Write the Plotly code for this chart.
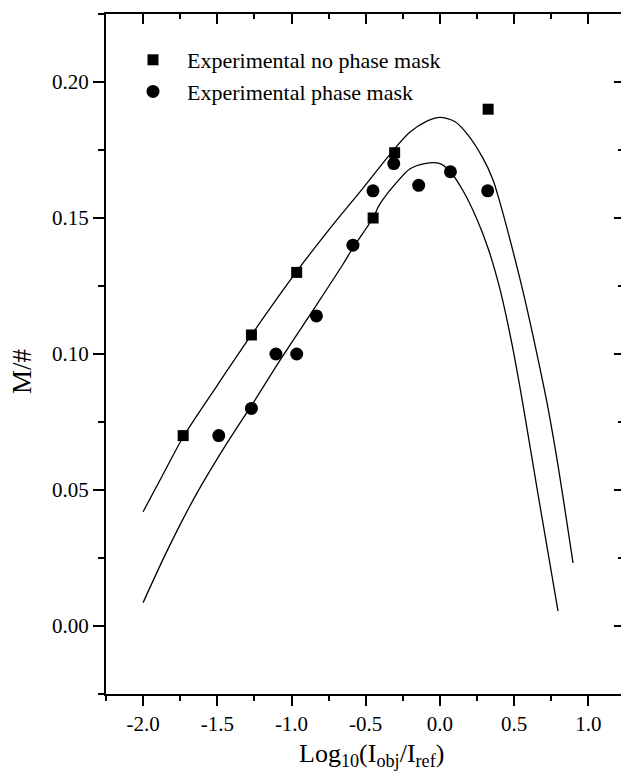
import plotly.graph_objects as go

# ---- data ----
sq_x = [-1.73, -1.27, -0.965, -0.45, -0.305, 0.325]
sq_y = [0.070, 0.107, 0.130, 0.150, 0.174, 0.190]

ci_x = [-1.49, -1.27, -1.105, -0.965, -0.832, -0.586, -0.451, -0.311, -0.143, 0.071, 0.322]
ci_y = [0.070, 0.080, 0.100, 0.100, 0.114, 0.140, 0.160, 0.170, 0.162, 0.167, 0.160]

up_x = [-2.0, -1.866, -1.73, -1.50, -1.27, -0.97, -0.743, -0.518, -0.305, -0.203,
        -0.091, 0.0, 0.10, 0.19, 0.29, 0.358, 0.403, 0.482, 0.56, 0.65, 0.722, 0.796, 0.897]
up_y = [0.042, 0.0557, 0.0695, 0.0885, 0.107, 0.130, 0.146, 0.161, 0.1755, 0.1815,
        0.1855, 0.187, 0.1855, 0.1805, 0.172, 0.164, 0.156, 0.140, 0.123, 0.101, 0.082, 0.059, 0.0232]

lo_x = [-2.0, -1.866, -1.753, -1.641, -1.506, -1.349, -1.27, -1.08, -0.832, -0.653,
        -0.586, -0.451, -0.406, -0.293, -0.203, -0.103, 0.0, 0.071, 0.156, 0.246,
        0.324, 0.403, 0.482, 0.556, 0.661, 0.796]
lo_y = [0.0086, 0.0245, 0.037, 0.0485, 0.0610, 0.0745, 0.081, 0.0975, 0.118, 0.133,
        0.139, 0.150, 0.155, 0.163, 0.168, 0.170, 0.170, 0.167, 0.160, 0.150,
        0.139, 0.1242, 0.1046, 0.0826, 0.0485, 0.0055]

x_tickvals = [-2.0, -1.5, -1.0, -0.5, 0.0, 0.5, 1.0]
x_ticktext = ["-2.0", "-1.5", "-1.0", "-0.5", "0.0", "0.5", "1.0"]
y_tickvals = [0.00, 0.05, 0.10, 0.15, 0.20]
y_ticktext = ["0.00", "0.05", "0.10", "0.15", "0.20"]

label_sq = "Experimental no phase mask"
label_ci = "Experimental phase mask"
x_title = "Log<sub>10</sub>(I<sub>obj</sub>/I<sub>ref</sub>)"
y_title = "M/#"

# ---- layout geometry ----
W, H = 621, 781
ML, MT, MB, MR = 106, 14, 87, 0
PW, PH = W - ML - MR, H - MT - MB
FONT = "Liberation Serif, Times New Roman, serif"

def px2paper_x(px):
    return (px - ML) / PW

def px2paper_y(py):
    return (H - MB - py) / PH

fig = go.Figure()

line_style = dict(color="black", width=1.3, shape="spline", smoothing=0.8)
fig.add_trace(go.Scatter(x=up_x, y=up_y, mode="lines", line=line_style,
                         showlegend=False, hoverinfo="skip"))
fig.add_trace(go.Scatter(x=lo_x, y=lo_y, mode="lines", line=line_style,
                         showlegend=False, hoverinfo="skip"))
fig.add_trace(go.Scatter(x=sq_x, y=sq_y, mode="markers", name=label_sq,
                         legendgroup="a",
                         marker=dict(symbol="square", size=11, color="black")))
fig.add_trace(go.Scatter(x=ci_x, y=ci_y, mode="markers", name=label_ci,
                         legendgroup="b",
                         marker=dict(symbol="circle", size=13, color="black")))
# invisible trace to carry mirrored top/right axes
fig.add_trace(go.Scatter(x=up_x, y=up_y, mode="lines", xaxis="x2", yaxis="y2",
                         line=dict(color="rgba(0,0,0,0)"), showlegend=False,
                         hoverinfo="skip"))

xr = [-2.25, -2.25 + PW / 148.4]
yr = [-0.025, 0.225]

axis_common = dict(showgrid=False, zeroline=False, showline=True, linecolor="black",
                   linewidth=2, tickcolor="black", tickwidth=2)

fig.update_layout(
    width=W, height=H,
    margin=dict(l=ML, r=MR, t=MT, b=MB),
    paper_bgcolor="white", plot_bgcolor="white",
    font=dict(family=FONT, color="black", size=20),
    xaxis=dict(range=xr, tickvals=x_tickvals, ticktext=x_ticktext, ticks="outside",
               ticklen=10, tickfont=dict(family=FONT, size=21, color="black"),
               ticklabelstandoff=0,
               minor=dict(tick0=0, dtick=0.25, ticks="outside", ticklen=5,
                          tickwidth=2, tickcolor="black"),
               **axis_common),
    yaxis=dict(range=yr, tickvals=y_tickvals, ticktext=y_ticktext, ticks="outside",
               ticklen=11, tickfont=dict(family=FONT, size=21, color="black"),
               minor=dict(tick0=0, dtick=0.025, ticks="outside", ticklen=6,
                          tickwidth=2, tickcolor="black"),
               **axis_common),
    xaxis2=dict(range=xr, overlaying="x", side="top", anchor="y", ticks="inside",
                tickvals=x_tickvals, showticklabels=False, ticklen=10,
                minor=dict(tick0=0, dtick=0.25, ticks="inside", ticklen=5,
                           tickwidth=2, tickcolor="black"),
                **axis_common),
    yaxis2=dict(range=yr, overlaying="y", side="right", anchor="x", ticks="inside",
                tickvals=y_tickvals, showticklabels=False, ticklen=7,
                minor=dict(tick0=0, dtick=0.025, ticks="inside", ticklen=3,
                           tickwidth=2, tickcolor="black"),
                **axis_common),
    legend=dict(x=px2paper_x(119), y=px2paper_y(39), xanchor="left", yanchor="top",
                bgcolor="rgba(0,0,0,0)", font=dict(family=FONT, size=22, color="black"),
                tracegroupgap=0, itemwidth=58),
    showlegend=True,
    annotations=[
        dict(text=x_title, xref="paper", yref="paper", x=px2paper_x(371),
             y=px2paper_y(755), xanchor="center", yanchor="middle", showarrow=False,
             font=dict(family=FONT, size=26, color="black")),
        dict(text=y_title, xref="paper", yref="paper", x=px2paper_x(22),
             y=px2paper_y(371), xanchor="center", yanchor="middle", showarrow=False,
             textangle=-90, font=dict(family=FONT, size=27, color="black")),
    ],
)

fig.write_html("out.html")
